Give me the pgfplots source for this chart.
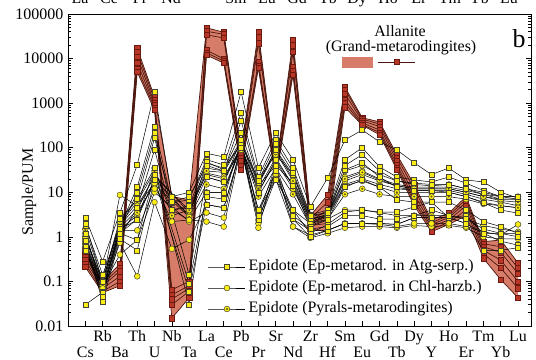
\documentclass[border=0pt]{standalone}
\usepackage{fontspec}
\setmainfont{Liberation Serif}
\usepackage{pgfplots}
\pgfplotsset{compat=1.18}
\usepackage{pgfplotstable}

\definecolor{yel}{RGB}{250,236,20}
\definecolor{mkd}{RGB}{70,70,50}
\definecolor{salm}{RGB}{214,124,104}
\definecolor{alred}{RGB}{185,55,38}
\definecolor{aldark}{RGB}{105,25,15}
\definecolor{alline}{RGB}{75,22,14}
\definecolor{dotc}{RGB}{90,80,20}

\pgfdeclareplotmark{dotcirc}{%
  \pgfpathcircle{\pgfpointorigin}{\pgfplotmarksize}%
  \pgfusepathqfillstroke
  \begin{pgfscope}%
  \pgfsetfillcolor{dotc}%
  \pgfpathcircle{\pgfpointorigin}{0.38\pgfplotmarksize}%
  \pgfusepathqfill
  \end{pgfscope}}

\pgfplotsset{
 sq/.style={black, line width=0.5bp, mark=square*, mark size=2.5bp, mark options={solid, fill=yel, draw=mkd, line width=0.5bp}},
 ci/.style={black, line width=0.5bp, mark=*, mark size=2.9bp, mark options={solid, fill=yel, draw=mkd, line width=0.5bp}},
 dc/.style={black, line width=0.5bp, mark=dotcirc, mark size=2.9bp, mark options={solid, fill=yel, draw=mkd, line width=0.5bp}},
 al/.style={alline, line width=0.7bp, mark=square*, mark size=2.6bp, mark options={solid, fill=alred, draw=aldark, line width=0.5bp}},
}

% Epidote, Ep-metarodingites in Atg-serpentinite (squares)
\pgfplotstableread{
x  S1    S2    S3    S4    S5    S6    S7    S8
0  2.7   1.8   1.2   0.6   0.03  0.8   2.0   0.5
1  0.28  0.14  0.06  0.05  0.057 0.035 0.1   0.045
2  3.5   1.7   1.4   1.0   1.5   0.9   2.5   1.2
3  41    13    10    4.5   2.4   0.5   7     0.85
4  1800  300   215   90    35    19    165   25
5  8     5.8   4     nan   nan   nan   6     nan
6  10    6.8   5     0.14  0.03  0.06  8     0.09
7  75    54    48    22    10    5.3   40    8
8  62    41    32    17    10    4.5   30    7
9  1800  600   215   150   120   100   400   150
10 35    22    16    10    4     2.4   18    3
11 215   150   90    54    19    30    120   40
12 54    35    25    14    4     2.5   28    3
13 4.7   3.1   2.5   1.7   1.2   1.0   3     1.5
14 21    4     3     2.4   1.9   1.4   3.5   1.7
15 150   54    32    13    3.6   2     40    3
16 250   100   46    19    4     2     70    3
17 135   37    22    13    3.6   2     30    2.5
18 89    22    13    6.8   3.6   1.9   18    2.5
19 46    19    11    6     4.7   2.7   16    3
20 25    17    11    6     6     2.7   15    4
21 35    22    10    6     2.7   2.7   15    3
22 19    16    8     4     3     2     12    2.5
23 17    11    5.8   2.2   1.2   0.5   10    1.5
24 10    8     4     1.7   0.8   0.5   8     1.2
25 7.4   7     3.4   1.2   0.65  0.57  8     1.0
}\sqdata

% Epidote, Ep-metarodingites in Chl-harzburgite (circles)
\pgfplotstableread{
x  C1    C2    C3    C4
0  1.0   0.5   0.7   1.2
1  0.1   0.06  0.08  0.07
2  8.7   0.74  0.4   1.4
3  5     0.13  0.85  1.4
4  16    6     10    12
5  2.2   0.54  nan   4
6  2.4   0.86  2.2   2.4
7  10    5.3   3.5   2.2
8  10    4.5   2.7   1.7
9  100   90    120   100
10 4     2.4   2     1.6
11 30    25    20    35
12 4     2.5   1.7   1.7
13 2     1.4   0.95  1.1
14 2.5   1.4   1.2   1.4
15 4     2     1.6   2.0
16 4     2     1.7   2.0
17 3.5   2     1.7   1.9
18 3     1.9   1.6   1.7
19 3     2.7   1.8   2.0
20 3     2.7   1.7   2.0
21 3     2.7   1.8   2.0
22 2.5   2     1.6   1.7
23 1.8   1.2   1.0   1.3
24 1.5   1.2   0.9   1.1
25 1.3   1.2   0.9   1.9
}\cidata

% Epidote, Pyrals-metarodingites (dotted circles)
\pgfplotstableread{
x  P1    P2    P3    P4    P5    P6    P7
0  1.0   0.5   0.9   0.6   0.8   1.5   0.7
1  0.09  0.07  0.1   0.06  0.08  0.1   0.07
2  1.6   1.5   2     1.2   1.8   2.2   1.3
3  4     3     6     2.5   5     7     3.5
4  25    18    30    20    22    35    15
5  nan   nan   4     nan   nan   3     nan
6  3.5   3     4.5   3     4     4     2.8
7  27    22    35    45    25    30    15
8  22    17    30    35    20    28    12
9  100   110   150   120   90    130   100
10 12    10    16    20    14    15    8
11 60    50    90    70    40    80    35
12 14    12    20    25    16    18    9
13 2.2   2     2.5   2.8   2.2   2.4   1.8
14 3     2.8   3.2   3.5   3     3.2   2.5
15 15    14    22    30    18    20    9
16 20    18    30    40    25    28    12
17 15    13    20    25    18    19    9
18 12    10    15    18    14    14    8
19 11    10    13    15    12    12    8
20 11    10    13    14    12    12    8
21 11    10    13    15    12    12    8
22 9     8     11    12    10    10    7
23 7     6     9     9     8     8     5.5
24 6     5     7     8     6.5   7     5
25 5     4.5   7     8     6     7     4.5
}\dcdata

% Allanite (Grand-metarodingites)
\pgfplotstableread{
x  A1    A2    A3    A4    A5    A6
0  0.5   0.42  0.35  0.3   0.25  0.21
1  0.097 0.09  0.08  0.07  0.06  0.056
2  0.25  0.2   0.17  0.13  0.1   0.08
3  17000 14000 11000 8000  6000  5000
4  1380  1200  1000  900   800   700
5  8     0.065 0.05  0.04  0.03  0.015
6  6.8   0.1   0.08  0.07  0.06  0.043
7  49000 41000 34000 15500 13500 12000
8  39000 35000 29000 9800  8800  7900
9  90    75    60    50    40    32
10 39000 30000 22000 8300  7000  6100
11 32    30    27    25    22    19
12 26000 20000 14000 6500  5300  4300
13 3     2.6   2.3   2.0   1.8   1.5
14 8.7   6     4     3     2     1.3
15 2300  2000  1600  1200  1000  810
16 470   440   400   360   330   320
17 380   340   300   250   220   195
18 70    60    50    42    36    32
19 15    12    9     7     6     5
20 2.4   2.1   1.9   1.7   1.5   1.3
21 3.4   3.0   2.7   2.4   2.1   1.9
22 8     7     6     5     4     3
23 0.78  0.7   0.6   0.5   0.42  0.33
24 0.85  0.6   0.45  0.3   0.2   0.11
25 0.26  0.2   0.15  0.1   0.07  0.043
}\aldata

\newcommand{\lo}[1]{\vphantom{Rb}\\#1}

\begin{document}
\begin{tikzpicture}
\begin{axis}[
  scale only axis, width=463bp, height=312bp,
  ymode=log, ymin=0.01, ymax=100000,
  xmin=-1, xmax=25.75,
  xtick={0,...,25},
  xticklabels={{\lo{Cs}},Rb,{\lo{Ba}},Th,{\lo{U}},Nb,{\lo{Ta}},La,{\lo{Ce}},Pb,{\lo{Pr}},Sr,{\lo{Nd}},Zr,{\lo{Hf}},Sm,{\lo{Eu}},Gd,{\lo{Tb}},Dy,{\lo{Y}},Ho,{\lo{Er}},Tm,{\lo{Yb}},Lu},
  xtick pos=left,
  ytick={0.01,0.1,1,10,100,1000,10000,100000},
  yticklabels={0.01,0.1,1,10,100,1000,10000,100000},
  tick align=inside,
  major tick length=5bp, minor tick length=3bp,
  axis line style={line width=0.8bp},
  every tick/.style={black, line width=0.6bp},
  xticklabel style={font=\fontsize{16}{16}\selectfont, align=center, inner sep=4.5bp},
  yticklabel style={font=\fontsize{16}{19}\selectfont, inner sep=4.5bp},
  legend style={at={(0.3024,0.1218)}, anchor=west, draw=none, fill=none, inner sep=0pt, row sep=0pt,
     nodes={font=\fontsize{16}{19}\selectfont, text height=11bp, text depth=4bp, inner ysep=3bp, inner xsep=3bp}},
  legend cell align=left,
  legend image code/.code={\draw[mark repeat=2, mark phase=2, #1] plot coordinates {(0bp,0bp) (18.5bp,0bp) (37bp,0bp)};},
]
\addlegendimage{sq}
\addlegendentry{Epidote (Ep-metarod. in Atg-serp.)}
\addlegendimage{ci}
\addlegendentry{Epidote (Ep-metarod. in Chl-harzb.)}
\addlegendimage{dc}
\addlegendentry{Epidote (Pyrals-metarodingites)}

% allanite field
\addplot[fill=salm, draw=none, forget plot] coordinates {
(0,0.5)(1,0.097)(2,0.25)(3,17000)(4,1380)(5,8)(6,6.8)(7,49000)(8,39000)(9,90)(10,39000)(11,32)(12,26000)(13,3)(14,8.7)(15,2300)(16,470)(17,380)(18,70)(19,15)(20,2.4)(21,3.4)(22,8)(23,0.78)(24,0.85)(25,0.26)
(25,0.043)(24,0.11)(23,0.33)(22,3)(21,1.9)(20,1.3)(19,5)(18,32)(17,195)(16,320)(15,810)(14,1.3)(13,1.5)(12,4300)(11,19)(10,6100)(9,32)(8,7900)(7,12000)(6,0.043)(5,0.015)(4,700)(3,5000)(2,0.08)(1,0.056)(0,0.21)};

\foreach \c in {A1,A2,A3,A4,A5,A6}{
  \addplot[al, forget plot] table[x=x, y=\c] {\aldata};
}
\foreach \c in {P1,P2,P3,P4,P5,P6,P7}{
  \addplot[dc, forget plot] table[x=x, y=\c] {\dcdata};
}
\foreach \c in {C1,C2,C3,C4}{
  \addplot[ci, forget plot] table[x=x, y=\c] {\cidata};
}
\foreach \c in {S1,S2,S3,S4,S5,S6,S7,S8}{
  \addplot[sq, forget plot] table[x=x, y=\c] {\sqdata};
}
\end{axis}

\begin{axis}[
  scale only axis, width=463bp, height=312bp, hide axis,
  xmin=0, xmax=1, ymin=0, ymax=1,
  legend style={at={(0.5918,0.8462)}, anchor=west, draw=none, fill=none, inner sep=0pt},
]
\addlegendimage{legend image code/.code={
   \fill[salm] (0bp,-5bp) rectangle (30bp,5bp);
   \draw[alline, line width=0.7bp, mark=square*, mark repeat=2, mark phase=2, mark size=2.6bp, mark options={fill=alred, draw=aldark}] plot coordinates {(36bp,0bp) (54.5bp,0bp) (73bp,0bp)};
 }}
\addlegendentry{}
\end{axis}

\node[anchor=base, font=\fontsize{16}{19}\selectfont] at (332bp,289bp) {Allanite};
\node[anchor=base, font=\fontsize{16}{19}\selectfont] at (333bp,274bp) {(Grand-metarodingites)};
\node[anchor=base, font=\fontsize{26}{30}\selectfont] at (451bp,278bp) {b};
\node[rotate=90, font=\fontsize{16}{19}\selectfont] at (-39bp,134bp) {Sample/PUM};

\foreach \x/\t in {12/La, 41/Ce, 72/Pr, 103/Nd, 168/Sm, 199/Eu, 229/Gd, 260/Tb, 289/Dy, 320/Ho, 351/Er, 382/Tm, 411/Yb, 441/Lu}
  \node[anchor=base, font=\fontsize{16}{19}\selectfont] at (\x bp, 322bp) {\t};

\pgfresetboundingbox
\path (-68bp,-34bp) rectangle (468bp,326bp);
\end{tikzpicture}
\end{document}
